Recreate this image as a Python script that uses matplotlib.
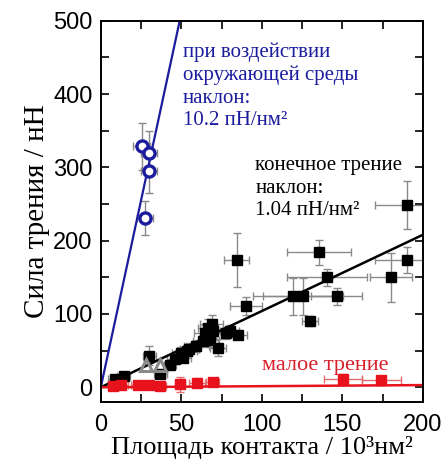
import numpy as np
import matplotlib
matplotlib.use("Agg")
import matplotlib.pyplot as plt
from matplotlib.ticker import MultipleLocator

# black squares: final friction
bx = [8.7, 14.3, 30, 37, 43, 46, 50, 51, 53.6, 55, 59.4, 63.5, 64.6, 66.6, 67.7, 68.8,
      69.7, 72.9, 78, 80, 85, 84.3, 90, 119.5, 125.6, 130, 135.4, 140.6, 146.4, 180.5,
      190.4, 190.4]
by = [11, 15, 43, 18, 31, 38, 47, 40, 50, 52, 56, 63, 74.5, 81, 65, 86,
      77, 54, 74.5, 77, 72, 174, 111, 124, 124, 90, 184, 150, 124, 150,
      174, 249]
bxerr = [4, 4, 4, 4, 4, 5, 6, 5, 6, 6, 8, 6, 7, 6, 6, 7,
         6, 5, 6, 6, 6, 8, 10, 25, 25, 5, 20, 25, 16, 13,
         20, 20]
byerr = [4, 4, 13, 6, 6, 6, 8, 6, 8, 8, 8, 8, 10, 12, 10, 12,
         10, 12, 8, 8, 6, 37, 12, 25, 25, 7, 17, 12, 12, 33,
         18, 33]

# red squares: low friction
rx = [7.6, 12.8, 23, 30, 36.6, 49, 60, 69.4, 150.5, 174.3]
ry = [2, 3, 3, 3, 2, 4, 6, 7, 11, 9.5]
rxerr = [3, 4, 4, 4, 4, 3, 5, 4, 12, 12]
ryerr = [3, 3, 3, 3, 3, 10, 6, 4, 7, 6]

# blue circles: ambient
cx = [25.3, 30, 30, 27.3]
cy = [329, 320, 295, 231]
cxerr = [5, 5, 5, 5]
cyerr = [32, 30, 30, 23]

# grey triangles
tx = [28.3, 36.6]
ty = [30, 31]

# fitted slopes (nN per 10^3 nm^2)
k_blue = 10.2
k_black = 1.04
k_red = 0.015

blue = "#1c1c9e"
red = "#e8121c"
grey = "#8a8a8a"

plt.rcParams['font.family'] = 'Liberation Serif'

fig = plt.figure(figsize=(4.46, 4.62), dpi=100)
ax = fig.add_axes([0.226, 0.130, 0.722, 0.825])

xs = np.array([0, 200.0])
ax.plot(xs, k_black * xs, color="black", lw=1.8, zorder=2)
ax.plot(xs, k_red * xs, color=red, lw=1.8, zorder=2)
ax.plot(xs, k_blue * xs, color=blue, lw=1.6, zorder=2)

ax.errorbar(bx, by, xerr=bxerr, yerr=byerr, fmt="none", ecolor=grey, elinewidth=1,
            capsize=3, capthick=1, zorder=1)
ax.plot(bx, by, "s", color="black", ms=7.5, zorder=3)

ax.errorbar(rx, ry, xerr=rxerr, yerr=ryerr, fmt="none", ecolor="#e07070", elinewidth=1,
            capsize=3, capthick=1, zorder=1)
ax.plot(rx, ry, "s", color=red, ms=7.5, zorder=4)

ax.plot(tx, ty, "^", mfc="none", mec=grey, mew=2.2, ms=9, zorder=4)

ax.errorbar(cx, cy, xerr=cxerr, yerr=cyerr, fmt="none", ecolor=grey, elinewidth=1,
            capsize=3, capthick=1, zorder=1)
ax.plot(cx, cy, "o", mfc="white", mec=blue, mew=2.4, ms=8, zorder=5)

ax.set_xlim(0, 200)
ax.set_ylim(-20, 500)
ax.xaxis.set_major_locator(MultipleLocator(50))
ax.xaxis.set_minor_locator(MultipleLocator(25))
ax.yaxis.set_major_locator(MultipleLocator(100))
ax.yaxis.set_minor_locator(MultipleLocator(50))
ax.tick_params(which="both", direction="in", top=True, right=True, width=1.2)
ax.tick_params(which="major", length=6, labelsize=17)
ax.tick_params(axis="x", which="major", pad=9)
ax.tick_params(axis="y", which="major", pad=6)
ax.tick_params(which="minor", length=6)
for lab in ax.get_xticklabels() + ax.get_yticklabels():
    lab.set_family("Liberation Sans")
for s in ax.spines.values():
    s.set_linewidth(1.4)

ax.set_xlabel("Площадь контакта / 10³нм²", fontsize=19, labelpad=0)
ax.set_ylabel("Сила трения / нН", fontsize=21, labelpad=2)

ax.text(51, 470, "при воздействии\nокружающей среды\nнаклон:\n10.2 пН/нм²", color=blue,
        fontsize=15, va="top", ha="left", linespacing=1.25)
ax.text(96, 315, "конечное трение\nнаклон:\n1.04 пН/нм²", color="black",
        fontsize=15, va="top", ha="left", linespacing=1.25)
ax.text(100, 30, "малое трение", color="#d8202a", fontsize=16, va="center", ha="left")

fig.savefig("out.png", dpi=100)
